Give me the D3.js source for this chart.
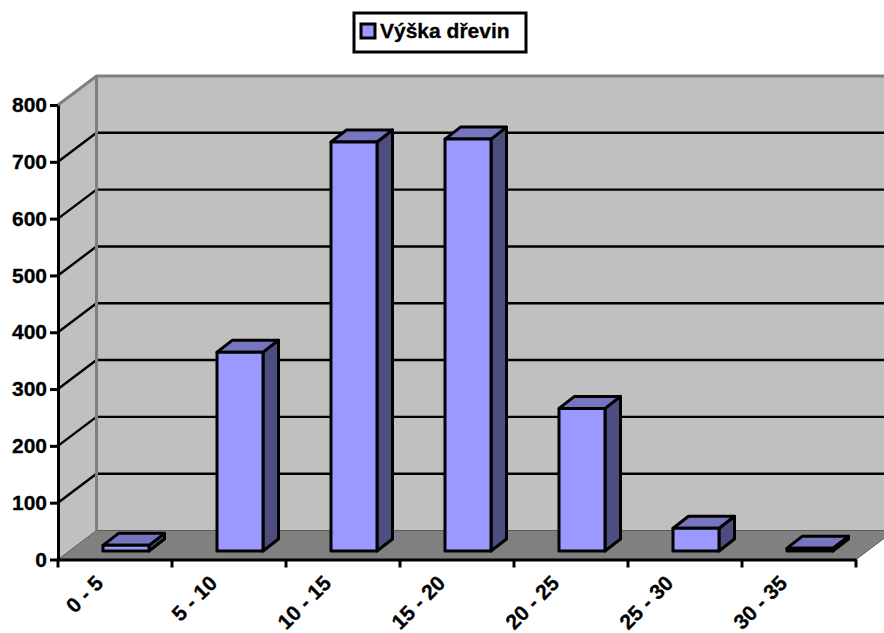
<!DOCTYPE html>
<html>
<head>
<meta charset="utf-8">
<title>Výška dřevin</title>
<script src="https://d3js.org/d3.v7.min.js"></script>
<style>
	html, body { margin:0; padding:0; background:#fff; overflow:hidden; }
	text { font-family:"Liberation Sans", Arial, sans-serif; font-weight:bold; fill:#000; stroke:#000; stroke-width:0.3px; }
</style>
</head>
<body>
<div id="chart"></div>
<script>
var categories = ["0 - 5", "5 - 10", "10 - 15", "15 - 20", "20 - 25", "25 - 30", "30 - 35"];
var values = [10, 350, 720, 725, 251, 40, 5];
var yTicks = [0, 100, 200, 300, 400, 500, 600, 700, 800];
var seriesName = "Výška dřevin";

var width = 884, height = 633;
var colors = {front:"#9999ff", top:"#7676bf", side:"#4d4d80", wall:"#c0c0c0", floor:"#808080", edge:"#808080"};
var strokeW = 3;

// front edge of the plot and the depth of the 3d box
var plotLeft = 58, plotRight = 856, plotBottom = 559.5, plotTop = 105;
var depthX = 38.5, depthY = -29;

var x = d3.scaleBand().domain(categories).range([plotLeft, plotRight]);
var y = d3.scaleLinear().domain([0, 800]).range([plotBottom, plotTop]);

var line = d3.line();

var svg = d3.select("#chart").append("svg")
	.attr("width", width)
	.attr("height", height)
	.style("display", "block");

// back wall, side wall, floor
var walls = svg.append("g").attr("class", "walls");
walls.append("path")
	.attr("fill", colors.wall)
	.attr("d", line([[plotLeft+depthX, plotTop+depthY], [plotRight+depthX, plotTop+depthY], [plotRight+depthX, plotBottom+depthY], [plotLeft+depthX, plotBottom+depthY]])+"Z");
walls.append("path")
	.attr("fill", colors.wall)
	.attr("d", line([[plotLeft, plotTop], [plotLeft+depthX, plotTop+depthY], [plotLeft+depthX, plotBottom+depthY], [plotLeft, plotBottom]])+"Z");
walls.append("path")
	.attr("fill", colors.floor)
	.attr("stroke", "#5a5a5a")
	.attr("stroke-width", 1)
	.attr("d", line([[plotLeft, plotBottom], [plotLeft+depthX, plotBottom+depthY], [plotRight+depthX, plotBottom+depthY], [plotRight, plotBottom]])+"Z");

// gridlines
var grid = svg.append("g").attr("class", "grid");
grid.selectAll("path")
	.data(yTicks.filter(function(d){ return d > 0 && d < 800; }))
	.enter().append("path")
	.attr("fill", "none")
	.attr("stroke", "#000")
	.attr("stroke-width", 2.4)
	.attr("d", function(d){
		return line([[plotLeft, y(d)], [plotLeft+depthX, y(d)+depthY], [plotRight+depthX, y(d)+depthY]]);
	});

// gray frame of the walls
var frame = svg.append("g").attr("class", "frame");
frame.append("path")
	.attr("fill", "none")
	.attr("stroke", colors.edge)
	.attr("stroke-width", strokeW)
	.attr("d", line([[plotLeft, plotTop], [plotLeft+depthX, plotTop+depthY], [plotRight+depthX, plotTop+depthY]]));
frame.append("path")
	.attr("fill", "none")
	.attr("stroke", colors.edge)
	.attr("stroke-width", strokeW)
	.attr("d", line([[plotLeft+depthX, plotTop+depthY], [plotLeft+depthX, plotBottom+depthY]]));

// bars
var barWidth = 46, barDx = 15.5, barDy = -12;
var floorDx = 11, floorDy = -8.5;
var bars = svg.append("g").attr("class", "bars")
	.selectAll("g")
	.data(values)
	.enter().append("g")
	.attr("stroke", "#000")
	.attr("stroke-width", strokeW)
	.attr("stroke-linejoin", "round");

function barX(i){ return x(categories[i]) + x.step()/2 - barWidth/2 + floorDx; }

bars.append("path")
	.attr("fill", colors.side)
	.attr("d", function(d, i){
		var r = barX(i)+barWidth, t = y(d)+floorDy, b = y(0)+floorDy;
		return line([[r, t], [r+barDx, t+barDy], [r+barDx, b+barDy], [r, b]])+"Z";
	});
bars.append("path")
	.attr("fill", colors.top)
	.attr("d", function(d, i){
		var l = barX(i), t = y(d)+floorDy;
		return line([[l, t], [l+barDx, t+barDy], [l+barWidth+barDx, t+barDy], [l+barWidth, t]])+"Z";
	});
bars.append("rect")
	.attr("fill", colors.front)
	.attr("x", function(d, i){ return barX(i); })
	.attr("y", function(d){ return y(d)+floorDy; })
	.attr("width", barWidth)
	.attr("height", function(d){ return y(0)-y(d); });

// y axis
var yAxis = svg.append("g")
	.attr("class", "yAxis")
	.attr("transform", "translate("+plotLeft+",0)")
	.call(d3.axisLeft(y).tickValues(yTicks).tickSize(8).tickSizeOuter(0).tickPadding(3));
yAxis.selectAll("path, line").attr("stroke", "#000").attr("stroke-width", strokeW);
yAxis.selectAll("text").attr("font-size", 21).attr("font-family", null).attr("fill", "#000");

// x axis, ticks stand on the category borders
var xAxis = svg.append("g")
	.attr("class", "xAxis")
	.attr("transform", "translate(0,"+plotBottom+")")
	.call(d3.axisBottom(x).tickSize(0).tickSizeOuter(0));
xAxis.select("path").attr("stroke", "#000").attr("stroke-width", strokeW);
xAxis.selectAll(".border")
	.data(d3.range(categories.length+1))
	.enter().append("line")
	.attr("class", "border")
	.attr("stroke", "#000")
	.attr("stroke-width", strokeW)
	.attr("x1", function(d){ return plotLeft + d*x.step(); })
	.attr("x2", function(d){ return plotLeft + d*x.step(); })
	.attr("y1", 0)
	.attr("y2", 8);
xAxis.selectAll(".tick text")
	.attr("font-size", 21)
	.attr("fill", "#000")
	.attr("text-anchor", "end")
	.attr("dx", 0)
	.attr("dy", 0)
	.attr("y", 0)
	.attr("transform", "translate(-10.5,25) rotate(-45)");

// legend
var legend = svg.append("g").attr("class", "legend");
legend.append("rect")
	.attr("x", 354).attr("y", 13)
	.attr("width", 172).attr("height", 39)
	.attr("fill", "#fff")
	.attr("stroke", "#000")
	.attr("stroke-width", strokeW);
legend.append("rect")
	.attr("x", 361).attr("y", 24)
	.attr("width", 14).attr("height", 14)
	.attr("fill", colors.front)
	.attr("stroke", "#000")
	.attr("stroke-width", strokeW);
legend.append("text")
	.attr("x", 380).attr("y", 38)
	.attr("font-size", 21)
	.text(seriesName);
</script>
</body>
</html>
